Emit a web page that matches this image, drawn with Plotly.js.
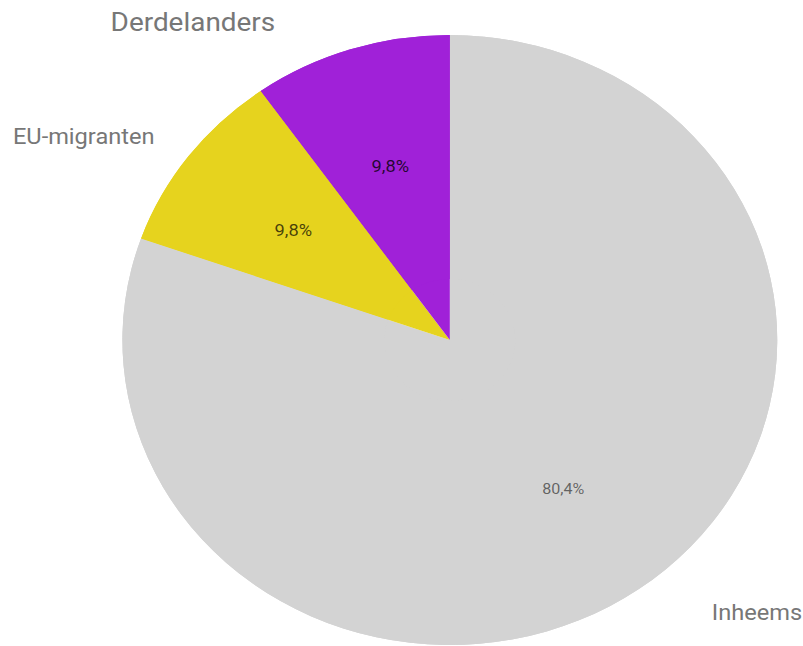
<!DOCTYPE html>
<html>
<head>
<meta charset="utf-8">
<script src="https://cdn.plot.ly/plotly-3.0.1.min.js"></script>
<style>
  html, body { margin: 0; padding: 0; background: #ffffff; overflow: hidden; }
  #wrap { width: 803px; height: 646px; overflow: hidden; }
  #chart { width: 748px; height: 646px; transform: scaleX(1.0735); transform-origin: 0 0; }
</style>
</head>
<body>
<div id="wrap"><div id="chart"></div></div>
<script>
// Data
const labels = ["Inheems", "EU-migranten", "Derdelanders"];
const values = [80.4, 9.8, 9.8];
const colors = ["#d3d3d3", "#e6d31e", "#a021d8"];
const textColors = ["rgba(0,0,0,0.55)", "rgba(0,0,0,0.7)", "rgba(0,0,0,0.78)"];
const textSizes = [15, 17, 17];

// Outer label placements (paper coords, before horizontal stretch)
const labelPos = {
  "Inheems":      {x: 0.9425, y: 0.052, size: 22},
  "EU-migranten": {x: 0.104,  y: 0.789, size: 22},
  "Derdelanders": {x: 0.2406, y: 0.966, size: 26}
};

const domain = { x: [0.1524, 0.968], y: [0.0015, 0.9458] };
const innerDomain = { x: [0.242, 0.878], y: [0.1053, 0.8421] };
const pct = "%{percent:.1%}";

// base pie: the filled slices
const base = {
  type: "pie",
  labels: labels,
  values: values,
  sort: false,
  direction: "clockwise",
  rotation: 0,
  marker: { colors: colors, line: { width: 0 } },
  textinfo: "none",
  hoverinfo: "label+percent",
  showlegend: false,
  domain: domain
};

const labelFont = { family: "Roboto, sans-serif", size: textSizes, color: textColors };

// ring copy carrying the label of the large slice
const ring = Object.assign({}, base, {
  hole: 0.2,
  textinfo: "percent",
  texttemplate: [pct, "", ""],
  textposition: "inside",
  insidetextorientation: "horizontal",
  textfont: labelFont
});

// transparent smaller copy carrying the labels of the small slices
const inner = Object.assign({}, base, {
  domain: innerDomain,
  marker: { colors: labels.map(function () { return "rgba(0,0,0,0)"; }), line: { width: 0 } },
  textinfo: "percent",
  texttemplate: ["", pct, pct],
  textposition: "inside",
  insidetextorientation: "horizontal",
  textfont: labelFont
});

const annotations = labels.map(function (l) {
  const p = labelPos[l];
  return {
    text: l, x: p.x, y: p.y, xref: "paper", yref: "paper",
    xanchor: "center", yanchor: "middle", showarrow: false,
    font: { family: "Roboto, sans-serif", size: p.size, color: "#777777" }
  };
});

const layout = {
  width: 748, height: 646,
  margin: { l: 0, r: 0, t: 0, b: 0 },
  paper_bgcolor: "#ffffff",
  separators: ",.",
  showlegend: false,
  annotations: annotations
};

Plotly.newPlot("chart", [base, ring, inner], layout, { displayModeBar: false, staticPlot: true });
</script>
</body>
</html>
